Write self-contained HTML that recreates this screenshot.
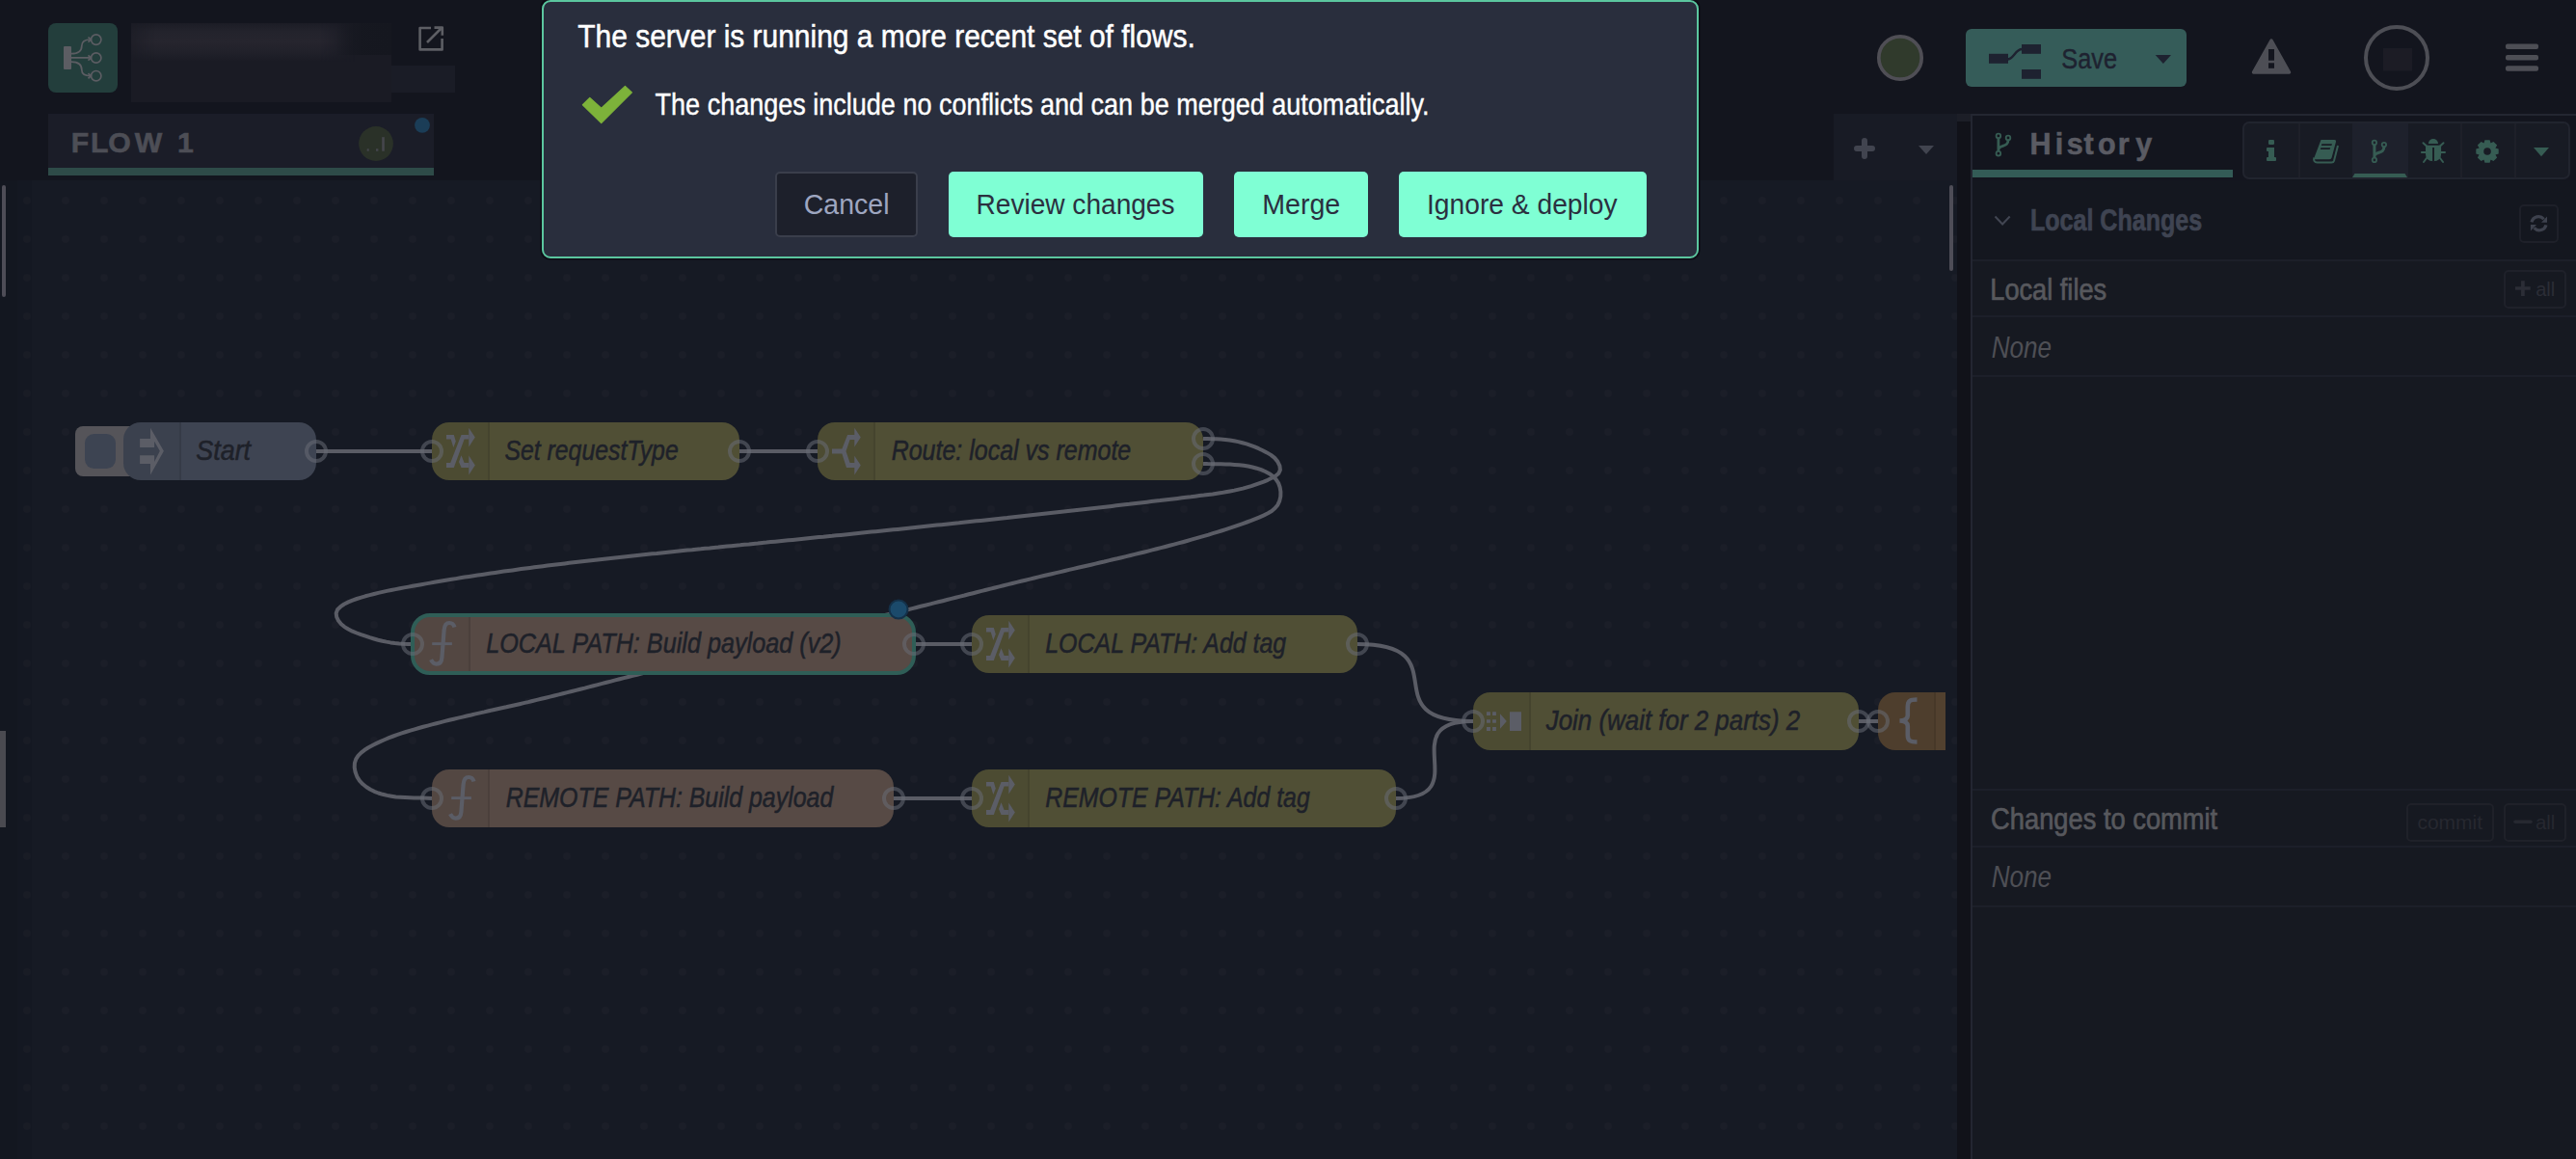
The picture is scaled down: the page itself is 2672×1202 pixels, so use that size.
<!DOCTYPE html>
<html><head><meta charset="utf-8"><title>Node-RED</title>
<style>
html,body{margin:0;padding:0;background:#13151e;overflow:hidden;width:100%;height:100%}
svg{display:block;width:100vw;height:100vh;font-family:"Liberation Sans",sans-serif}
</style></head><body>
<svg viewBox="0 0 2672 1202" preserveAspectRatio="none">
<defs>
<pattern id="gridp" x="8" y="28" width="40" height="40" patternUnits="userSpaceOnUse"><circle cx="20" cy="20" r="3.8" fill="#1b1e28"/></pattern>
<linearGradient id="lgnotch" x1="0" y1="0" x2="1" y2="0"><stop offset="0" stop-color="#15171f" stop-opacity="0"/><stop offset="0.5" stop-color="#15171f" stop-opacity="0.9"/><stop offset="1" stop-color="#15171f" stop-opacity="1"/></linearGradient>
<linearGradient id="lgv" x1="0" y1="0" x2="0" y2="1"><stop offset="0" stop-color="#1a1b24"/><stop offset="0.25" stop-color="#23232c"/><stop offset="0.5" stop-color="#26252e"/><stop offset="0.75" stop-color="#21212a"/><stop offset="1" stop-color="#1a1b24"/></linearGradient>
<linearGradient id="lgh" x1="0" y1="0" x2="1" y2="0"><stop offset="0" stop-color="#fff" stop-opacity="0.3"/><stop offset="0.12" stop-color="#fff" stop-opacity="1"/><stop offset="0.85" stop-color="#fff" stop-opacity="1"/><stop offset="1" stop-color="#fff" stop-opacity="0"/></linearGradient>
<mask id="mh" maskUnits="userSpaceOnUse" x="132" y="22" width="236" height="42"><rect x="132" y="22" width="236" height="42" fill="url(#lgh)"/></mask>
<radialGradient id="rgglow" cx="0.5" cy="0.5" r="0.5"><stop offset="0" stop-color="#26252e" stop-opacity="1"/><stop offset="0.55" stop-color="#25242d" stop-opacity="0.85"/><stop offset="1" stop-color="#1a1b24" stop-opacity="0"/></radialGradient>
</defs>
<rect x="0" y="0" width="2672" height="1202" fill="#13151e"/>
<rect x="0" y="187" width="2030" height="1015" fill="#161a24"/>
<rect x="0" y="187" width="2030" height="1015" fill="url(#gridp)"/>
<rect x="0" y="187" width="18" height="1015" fill="#000" fill-opacity="0.10"/><rect x="18" y="187" width="15" height="1015" fill="#000" fill-opacity="0.05"/>
<rect x="2030" y="126" width="14" height="1076" fill="#111219"/>
<rect x="2030" y="118" width="14" height="8" fill="#1c1e27"/>
<rect x="2044" y="118" width="628" height="1084" fill="#161921"/>
<rect x="2044" y="118" width="2" height="1084" fill="#232631"/>
<rect x="2044" y="118" width="628" height="2" fill="#232631"/>
<rect x="2046" y="120" width="626" height="67" fill="#13151e"/>
<rect x="2046" y="187" width="626" height="82" fill="#14171f"/>
<path d="M 328 468 L 448 468" fill="none" stroke="#5a5c65" stroke-width="4" stroke-linejoin="round"/>
<path d="M 767 468 L 848 468" fill="none" stroke="#5a5c65" stroke-width="4" stroke-linejoin="round"/>
<path d="M 1248.0 455.0 L 1252.4 455.1 L 1257.0 455.2 L 1261.6 455.3 L 1266.3 455.6 L 1271.0 456.0 L 1275.5 456.5 L 1280.0 457.2 L 1284.4 458.1 L 1288.7 459.2 L 1293.0 460.4 L 1297.2 461.8 L 1301.4 463.4 L 1305.6 465.2 L 1309.9 467.2 L 1314.1 469.4 L 1318.3 471.9 L 1322.1 474.9 L 1325.2 478.6 L 1327.4 483.1 L 1327.9 487.4 L 1326.3 490.9 L 1323.2 493.6 L 1319.2 495.8 L 1315.0 497.8 L 1310.8 499.6 L 1306.5 501.2 L 1302.2 502.7 L 1297.9 504.1 L 1293.5 505.4 L 1289.1 506.6 L 1284.7 507.6 L 1280.3 508.6 L 1275.8 509.5 L 1271.3 510.3 L 1266.8 511.1 L 1262.3 511.7 L 1257.8 512.4 L 1253.2 513.0 L 1248.7 513.6 L 1244.1 514.1 L 1239.6 514.7 L 1235.1 515.3 L 1230.5 515.8 L 1226.0 516.3 L 1221.4 516.9 L 1216.9 517.4 L 1212.3 518.0 L 1207.8 518.5 L 1203.3 519.1 L 1198.7 519.6 L 1194.2 520.1 L 1189.6 520.7 L 1185.1 521.2 L 1180.6 521.7 L 1176.0 522.2 L 1171.5 522.8 L 1166.9 523.3 L 1162.4 523.8 L 1157.9 524.3 L 1153.3 524.9 L 1148.8 525.4 L 1144.2 525.9 L 1139.7 526.4 L 1135.2 526.9 L 1130.6 527.4 L 1126.1 528.0 L 1121.6 528.5 L 1117.0 529.0 L 1112.5 529.5 L 1107.9 530.0 L 1103.4 530.5 L 1098.9 531.0 L 1094.3 531.5 L 1089.8 532.0 L 1085.3 532.5 L 1080.7 533.0 L 1076.2 533.5 L 1071.7 534.0 L 1067.1 534.5 L 1062.6 535.0 L 1058.1 535.5 L 1053.5 536.0 L 1049.0 536.5 L 1044.5 537.0 L 1039.9 537.4 L 1035.4 537.9 L 1030.8 538.4 L 1026.3 538.9 L 1021.8 539.4 L 1017.2 539.9 L 1012.7 540.3 L 1008.2 540.8 L 1003.6 541.3 L 999.1 541.8 L 994.6 542.3 L 990.0 542.7 L 985.5 543.2 L 981.0 543.7 L 976.4 544.2 L 971.9 544.6 L 967.4 545.1 L 962.8 545.6 L 958.3 546.1 L 953.8 546.5 L 949.2 547.0 L 944.7 547.5 L 940.2 547.9 L 935.6 548.4 L 931.1 548.9 L 926.6 549.3 L 922.0 549.8 L 917.5 550.3 L 913.0 550.7 L 908.4 551.2 L 903.9 551.6 L 899.3 552.1 L 894.8 552.6 L 890.3 553.0 L 885.7 553.5 L 881.2 553.9 L 876.7 554.4 L 872.1 554.9 L 867.6 555.3 L 863.1 555.8 L 858.5 556.2 L 854.0 556.7 L 849.4 557.1 L 844.9 557.6 L 840.4 558.0 L 835.8 558.5 L 831.3 558.9 L 826.7 559.4 L 822.2 559.9 L 817.7 560.3 L 813.1 560.8 L 808.6 561.2 L 804.0 561.7 L 799.5 562.1 L 795.0 562.6 L 790.4 563.0 L 785.9 563.5 L 781.3 563.9 L 776.8 564.4 L 772.2 564.8 L 767.7 565.3 L 763.1 565.7 L 758.6 566.2 L 754.1 566.6 L 749.5 567.0 L 745.0 567.5 L 740.4 567.9 L 735.9 568.4 L 731.3 568.8 L 726.8 569.3 L 722.2 569.7 L 717.7 570.2 L 713.1 570.6 L 708.6 571.1 L 704.0 571.6 L 699.5 572.0 L 694.9 572.5 L 690.4 572.9 L 685.8 573.4 L 681.3 573.9 L 676.7 574.3 L 672.2 574.8 L 667.6 575.3 L 663.1 575.7 L 658.6 576.2 L 654.0 576.7 L 649.5 577.2 L 644.9 577.7 L 640.4 578.2 L 635.8 578.7 L 631.3 579.2 L 626.7 579.7 L 622.2 580.2 L 617.7 580.7 L 613.1 581.2 L 608.6 581.7 L 604.0 582.2 L 599.5 582.8 L 595.0 583.3 L 590.4 583.8 L 585.9 584.4 L 581.4 584.9 L 576.8 585.5 L 572.3 586.0 L 567.8 586.6 L 563.2 587.2 L 558.7 587.8 L 554.2 588.3 L 549.7 588.9 L 545.1 589.5 L 540.6 590.1 L 536.1 590.7 L 531.6 591.4 L 527.1 592.0 L 522.5 592.6 L 518.0 593.2 L 513.5 593.9 L 509.0 594.5 L 504.5 595.2 L 500.0 595.9 L 495.5 596.6 L 491.0 597.2 L 486.5 597.9 L 482.0 598.6 L 477.5 599.3 L 473.0 600.1 L 468.5 600.8 L 464.0 601.5 L 459.5 602.3 L 455.0 603.0 L 450.5 603.8 L 446.0 604.6 L 441.6 605.4 L 437.1 606.2 L 432.6 607.0 L 428.1 607.8 L 423.7 608.6 L 419.2 609.4 L 414.7 610.3 L 410.3 611.1 L 405.8 612.0 L 401.3 612.9 L 396.9 613.9 L 392.4 614.9 L 388.0 616.0 L 383.5 617.1 L 379.0 618.3 L 374.6 619.6 L 370.1 621.0 L 365.6 622.6 L 361.3 624.4 L 357.1 626.5 L 353.2 629.2 L 350.0 632.3 L 348.7 636.0 L 349.2 639.9 L 351.1 643.8 L 353.9 647.2 L 357.3 650.1 L 361.3 652.5 L 365.5 654.7 L 370.0 656.5 L 374.5 658.2 L 379.1 659.7 L 383.5 661.2 L 387.9 662.5 L 392.2 663.7 L 396.5 664.7 L 400.8 665.6 L 405.1 666.4 L 409.5 667.1 L 414.0 667.5 L 418.6 667.8 L 423.3 668.0 L 428.1 667.9" fill="none" stroke="#5a5c65" stroke-width="4" stroke-linejoin="round"/>
<path d="M 1248.0 480.9 L 1252.6 481.1 L 1257.3 481.2 L 1261.9 481.3 L 1266.6 481.3 L 1271.3 481.4 L 1276.0 481.6 L 1280.6 481.9 L 1285.3 482.2 L 1290.0 482.8 L 1294.6 483.5 L 1299.1 484.5 L 1303.6 485.7 L 1308.1 487.2 L 1312.4 489.0 L 1316.6 491.2 L 1320.3 493.9 L 1323.5 497.1 L 1326.0 500.8 L 1327.6 505.2 L 1328.4 510.0 L 1328.3 514.9 L 1327.2 519.6 L 1325.3 523.7 L 1322.5 527.1 L 1319.1 530.0 L 1315.2 532.3 L 1311.0 534.4 L 1306.6 536.3 L 1302.2 538.1 L 1297.8 539.9 L 1293.4 541.5 L 1289.0 543.1 L 1284.6 544.7 L 1280.2 546.2 L 1275.7 547.7 L 1271.3 549.1 L 1266.9 550.5 L 1262.4 551.9 L 1258.0 553.2 L 1253.6 554.6 L 1249.1 555.9 L 1244.6 557.2 L 1240.2 558.4 L 1235.7 559.7 L 1231.2 561.0 L 1226.7 562.2 L 1222.2 563.4 L 1217.7 564.6 L 1213.2 565.8 L 1208.7 567.0 L 1204.2 568.1 L 1199.7 569.3 L 1195.2 570.4 L 1190.7 571.6 L 1186.2 572.7 L 1181.6 573.8 L 1177.1 574.9 L 1172.6 576.0 L 1168.0 577.1 L 1163.5 578.2 L 1159.0 579.3 L 1154.4 580.3 L 1149.9 581.4 L 1145.4 582.5 L 1140.8 583.5 L 1136.3 584.6 L 1131.7 585.7 L 1127.2 586.7 L 1122.6 587.8 L 1118.1 588.8 L 1113.5 589.9 L 1109.0 590.9 L 1104.5 592.0 L 1099.9 593.1 L 1095.4 594.1 L 1090.8 595.2 L 1086.3 596.3 L 1081.8 597.3 L 1077.2 598.4 L 1072.7 599.5 L 1068.2 600.6 L 1063.6 601.7 L 1059.1 602.8 L 1054.6 603.9 L 1050.1 605.0 L 1045.5 606.1 L 1041.0 607.3 L 1036.5 608.4 L 1032.0 609.5 L 1027.5 610.6 L 1022.9 611.8 L 1018.4 612.9 L 1013.9 614.0 L 1009.4 615.2 L 1004.9 616.3 L 1000.4 617.5 L 995.8 618.6 L 991.3 619.7 L 986.8 620.9 L 982.3 622.0 L 977.8 623.2 L 973.3 624.3 L 968.8 625.4 L 964.2 626.6 L 959.7 627.7 L 955.2 628.8 L 950.7 630.0 L 946.2 631.1 L 941.7 632.2 L 937.1 633.3 L 932.6 634.4 L 928.1 635.5 L 923.6 636.7 L 919.0 637.8 L 914.5 638.9 L 910.0 640.0 L 905.5 641.0 L 900.9 642.1 L 896.4 643.2 L 891.9 644.3 L 887.4 645.4 L 882.8 646.5 L 878.3 647.6 L 873.8 648.6 L 869.2 649.7 L 864.7 650.8 L 860.2 651.9 L 855.6 652.9 L 851.1 654.0 L 846.6 655.1 L 842.0 656.2 L 837.5 657.2 L 833.0 658.3 L 828.4 659.4 L 823.9 660.4 L 819.4 661.5 L 814.8 662.6 L 810.3 663.6 L 805.7 664.7 L 801.2 665.8 L 796.7 666.8 L 792.1 667.9 L 787.6 669.0 L 783.1 670.0 L 778.5 671.1 L 774.0 672.2 L 769.5 673.3 L 764.9 674.3 L 760.4 675.4 L 755.9 676.5 L 751.3 677.6 L 746.8 678.6 L 742.3 679.7 L 737.7 680.8 L 733.2 681.9 L 728.7 683.0 L 724.1 684.1 L 719.6 685.2 L 715.1 686.3 L 710.5 687.4 L 706.0 688.5 L 701.5 689.6 L 696.9 690.7 L 692.4 691.8 L 687.9 692.9 L 683.4 694.0 L 678.8 695.2 L 674.3 696.3 L 669.8 697.4 L 665.3 698.5 L 660.8 699.7 L 656.2 700.8 L 651.7 702.0 L 647.2 703.1 L 642.7 704.3 L 638.2 705.4 L 633.7 706.6 L 629.1 707.8 L 624.6 708.9 L 620.1 710.1 L 615.6 711.2 L 611.1 712.4 L 606.6 713.6 L 602.0 714.7 L 597.5 715.9 L 593.0 717.0 L 588.5 718.1 L 584.0 719.3 L 579.5 720.4 L 574.9 721.5 L 570.4 722.6 L 565.9 723.7 L 561.4 724.8 L 556.8 725.9 L 552.3 727.0 L 547.8 728.1 L 543.2 729.1 L 538.7 730.2 L 534.2 731.2 L 529.6 732.2 L 525.1 733.3 L 520.5 734.3 L 516.0 735.3 L 511.5 736.3 L 506.9 737.3 L 502.4 738.4 L 497.8 739.4 L 493.3 740.4 L 488.8 741.5 L 484.2 742.5 L 479.7 743.6 L 475.2 744.6 L 470.6 745.7 L 466.1 746.8 L 461.6 747.9 L 457.1 749.1 L 452.6 750.2 L 448.1 751.4 L 443.6 752.6 L 439.1 753.8 L 434.6 755.0 L 430.1 756.3 L 425.6 757.6 L 421.1 759.0 L 416.7 760.4 L 412.3 761.9 L 407.9 763.5 L 403.5 765.2 L 399.2 767.0 L 394.9 768.9 L 390.6 770.9 L 386.4 773.0 L 382.2 775.3 L 378.2 777.8 L 374.6 780.6 L 371.6 783.7 L 369.3 787.2 L 367.9 791.3 L 367.7 795.9 L 368.6 800.8 L 370.4 805.6 L 373.1 809.8 L 376.4 813.3 L 380.1 816.2 L 384.1 818.7 L 388.2 820.8 L 392.5 822.5 L 396.9 823.8 L 401.4 824.9 L 406.0 825.7 L 410.6 826.4 L 415.3 826.8 L 420.0 827.1 L 424.8 827.3 L 429.5 827.4 L 434.2 827.5 L 438.9 827.6 L 443.5 827.8 L 448.0 828.0" fill="none" stroke="#5a5c65" stroke-width="4" stroke-linejoin="round"/>
<path d="M 948 668 L 1008 668" fill="none" stroke="#5a5c65" stroke-width="4" stroke-linejoin="round"/>
<path d="M 927 828 L 1008 828" fill="none" stroke="#5a5c65" stroke-width="4" stroke-linejoin="round"/>
<path d="M 1408 668 C 1516.2 668 1419.8 748 1528 748" fill="none" stroke="#5a5c65" stroke-width="4" stroke-linejoin="round"/>
<path d="M 1448 828 C 1532.9 828 1443.1 748 1528 748" fill="none" stroke="#5a5c65" stroke-width="4" stroke-linejoin="round"/>
<path d="M 1928 748 L 1948 748" fill="none" stroke="#5a5c65" stroke-width="4" stroke-linejoin="round"/>
<rect x="78" y="442" width="70" height="52" rx="8" fill="#555459"/>
<rect x="88" y="450" width="32" height="36" rx="9.5" fill="#3d4452"/>
<rect x="128" y="438" width="200" height="60" rx="18" fill="#3e4452"/>
<path d="M 146 438 H 186 V 498 H 146 A 18 18 0 0 1 128 480 V 456 A 18 18 0 0 1 146 438 Z" fill="#000" fill-opacity="0.04"/>
<rect x="186" y="438" width="2" height="60" fill="#000" fill-opacity="0.13"/>
<g transform="translate(128,438)" fill="#5b5d66"><path d="M28 5.7 L41.9 29.8 L28 54.6 L28 43 L17.1 43 L17.1 34.2 L32.1 34.2 L32.1 40.9 L37.8 29.8 L32.1 19.7 L32.1 25.9 L17.1 25.9 L17.1 17.1 L28 17.1 Z"/></g>
<text x="203.34" y="477" font-size="29.8" font-weight="normal" font-style="italic" fill="#1e2129" textLength="56.73" lengthAdjust="spacingAndGlyphs" stroke="#1e2129" stroke-width="0.55">Start</text>
<circle cx="328" cy="468" r="10" fill="none" stroke="rgba(104,107,116,0.55)" stroke-width="4"/>
<rect x="448" y="438" width="319" height="60" rx="18" fill="#504f35"/>
<path d="M 466 438 H 506 V 498 H 466 A 18 18 0 0 1 448 480 V 456 A 18 18 0 0 1 466 438 Z" fill="#000" fill-opacity="0.04"/>
<rect x="506" y="438" width="2" height="60" fill="#000" fill-opacity="0.13"/>
<g transform="translate(448,438)" fill="#5b5d66"><path d="M15 12.9 L22.8 12.9 L24.8 19.7 L22.3 25.9 L19.7 17.6 L15 17.6 Z"/><path d="M15 41.9 L19.2 41.9 L30.5 12.9 L38.3 12.9 L38.3 17.6 L33.6 17.6 L22.8 46.9 L15 46.9 Z"/><path d="M38.3 5.7 L44.8 15.5 L38.3 25.4 Z"/><path d="M30.5 34.2 L33.6 41.9 L38.3 41.9 L38.3 46.9 L30.5 46.9 L28 40.9 Z"/><path d="M38.3 34.4 L44.8 44.5 L38.3 54.6 Z"/></g>
<text x="523.40" y="477" font-size="29.8" font-weight="normal" font-style="italic" fill="#1e2129" textLength="180.31" lengthAdjust="spacingAndGlyphs" stroke="#1e2129" stroke-width="0.55">Set requestType</text>
<circle cx="448" cy="468" r="10" fill="none" stroke="rgba(104,107,116,0.55)" stroke-width="4"/>
<circle cx="767" cy="468" r="10" fill="none" stroke="rgba(104,107,116,0.55)" stroke-width="4"/>
<rect x="848" y="438" width="400" height="60" rx="18" fill="#504f35"/>
<path d="M 866 438 H 906 V 498 H 866 A 18 18 0 0 1 848 480 V 456 A 18 18 0 0 1 866 438 Z" fill="#000" fill-opacity="0.04"/>
<rect x="906" y="438" width="2" height="60" fill="#000" fill-opacity="0.13"/>
<g transform="translate(848,438)" fill="#5b5d66"><path d="M15 27.4 L25.4 27.4 L31.1 12.9 L38.3 12.9 L38.3 5.7 L44.8 15.5 L38.3 25.4 L38.3 17.9 L33.6 17.9 L29.5 30 L33.6 41.9 L38.3 41.9 L38.3 34.7 L44.8 44.5 L38.3 54.6 L38.3 46.9 L30 46.9 L25.4 32.6 L15 32.6 Z"/></g>
<text x="924.63" y="477" font-size="29.8" font-weight="normal" font-style="italic" fill="#1e2129" textLength="248.60" lengthAdjust="spacingAndGlyphs" stroke="#1e2129" stroke-width="0.55">Route: local vs remote</text>
<circle cx="848" cy="468" r="10" fill="none" stroke="rgba(104,107,116,0.55)" stroke-width="4"/>
<circle cx="1248" cy="455" r="10" fill="none" stroke="rgba(104,107,116,0.55)" stroke-width="4"/>
<circle cx="1248" cy="481" r="10" fill="none" stroke="rgba(104,107,116,0.55)" stroke-width="4"/>
<rect x="428" y="638" width="520" height="60" rx="18" fill="#574a45"/>
<path d="M 446 638 H 486 V 698 H 446 A 18 18 0 0 1 428 680 V 656 A 18 18 0 0 1 446 638 Z" fill="#000" fill-opacity="0.04"/>
<rect x="486" y="638" width="2" height="60" fill="#000" fill-opacity="0.13"/>
<rect x="428" y="638" width="520" height="60" rx="18" fill="none" stroke="#2f5e57" stroke-width="4"/>
<g transform="translate(428,638)" fill="#5b5d66"><path d="M43.5 12.5 C 42.5 8.8 40.5 8 38.2 8 C 34.5 8 33 10.5 32.6 15.5 L 30.4 44 C 30 49.5 27.5 50.6 24.8 50.6 C 22.3 50.6 20.5 49.5 19 46.2" fill="none" stroke="#5b5d66" stroke-width="4.2"/><rect x="20.2" y="28.2" width="20.7" height="2.9"/></g>
<text x="504.13" y="677" font-size="29.8" font-weight="normal" font-style="italic" fill="#1e2129" textLength="368.55" lengthAdjust="spacingAndGlyphs" stroke="#1e2129" stroke-width="0.55">LOCAL PATH: Build payload (v2)</text>
<circle cx="428" cy="668" r="10" fill="none" stroke="rgba(104,107,116,0.55)" stroke-width="4"/>
<circle cx="948" cy="668" r="10" fill="none" stroke="rgba(104,107,116,0.55)" stroke-width="4"/>
<rect x="1008" y="638" width="400" height="60" rx="18" fill="#504f35"/>
<path d="M 1026 638 H 1066 V 698 H 1026 A 18 18 0 0 1 1008 680 V 656 A 18 18 0 0 1 1026 638 Z" fill="#000" fill-opacity="0.04"/>
<rect x="1066" y="638" width="2" height="60" fill="#000" fill-opacity="0.13"/>
<g transform="translate(1008,638)" fill="#5b5d66"><path d="M15 12.9 L22.8 12.9 L24.8 19.7 L22.3 25.9 L19.7 17.6 L15 17.6 Z"/><path d="M15 41.9 L19.2 41.9 L30.5 12.9 L38.3 12.9 L38.3 17.6 L33.6 17.6 L22.8 46.9 L15 46.9 Z"/><path d="M38.3 5.7 L44.8 15.5 L38.3 25.4 Z"/><path d="M30.5 34.2 L33.6 41.9 L38.3 41.9 L38.3 46.9 L30.5 46.9 L28 40.9 Z"/><path d="M38.3 34.4 L44.8 44.5 L38.3 54.6 Z"/></g>
<text x="1084.25" y="677" font-size="29.8" font-weight="normal" font-style="italic" fill="#1e2129" textLength="249.97" lengthAdjust="spacingAndGlyphs" stroke="#1e2129" stroke-width="0.55">LOCAL PATH: Add tag</text>
<circle cx="1008" cy="668" r="10" fill="none" stroke="rgba(104,107,116,0.55)" stroke-width="4"/>
<circle cx="1408" cy="668" r="10" fill="none" stroke="rgba(104,107,116,0.55)" stroke-width="4"/>
<rect x="448" y="798" width="479" height="60" rx="18" fill="#574a45"/>
<path d="M 466 798 H 506 V 858 H 466 A 18 18 0 0 1 448 840 V 816 A 18 18 0 0 1 466 798 Z" fill="#000" fill-opacity="0.04"/>
<rect x="506" y="798" width="2" height="60" fill="#000" fill-opacity="0.13"/>
<g transform="translate(448,798)" fill="#5b5d66"><path d="M43.5 12.5 C 42.5 8.8 40.5 8 38.2 8 C 34.5 8 33 10.5 32.6 15.5 L 30.4 44 C 30 49.5 27.5 50.6 24.8 50.6 C 22.3 50.6 20.5 49.5 19 46.2" fill="none" stroke="#5b5d66" stroke-width="4.2"/><rect x="20.2" y="28.2" width="20.7" height="2.9"/></g>
<text x="524.74" y="837" font-size="29.8" font-weight="normal" font-style="italic" fill="#1e2129" textLength="339.51" lengthAdjust="spacingAndGlyphs" stroke="#1e2129" stroke-width="0.55">REMOTE PATH: Build payload</text>
<circle cx="448" cy="828" r="10" fill="none" stroke="rgba(104,107,116,0.55)" stroke-width="4"/>
<circle cx="927" cy="828" r="10" fill="none" stroke="rgba(104,107,116,0.55)" stroke-width="4"/>
<rect x="1008" y="798" width="440" height="60" rx="18" fill="#504f35"/>
<path d="M 1026 798 H 1066 V 858 H 1026 A 18 18 0 0 1 1008 840 V 816 A 18 18 0 0 1 1026 798 Z" fill="#000" fill-opacity="0.04"/>
<rect x="1066" y="798" width="2" height="60" fill="#000" fill-opacity="0.13"/>
<g transform="translate(1008,798)" fill="#5b5d66"><path d="M15 12.9 L22.8 12.9 L24.8 19.7 L22.3 25.9 L19.7 17.6 L15 17.6 Z"/><path d="M15 41.9 L19.2 41.9 L30.5 12.9 L38.3 12.9 L38.3 17.6 L33.6 17.6 L22.8 46.9 L15 46.9 Z"/><path d="M38.3 5.7 L44.8 15.5 L38.3 25.4 Z"/><path d="M30.5 34.2 L33.6 41.9 L38.3 41.9 L38.3 46.9 L30.5 46.9 L28 40.9 Z"/><path d="M38.3 34.4 L44.8 44.5 L38.3 54.6 Z"/></g>
<text x="1084.25" y="837" font-size="29.8" font-weight="normal" font-style="italic" fill="#1e2129" textLength="274.47" lengthAdjust="spacingAndGlyphs" stroke="#1e2129" stroke-width="0.55">REMOTE PATH: Add tag</text>
<circle cx="1008" cy="828" r="10" fill="none" stroke="rgba(104,107,116,0.55)" stroke-width="4"/>
<circle cx="1448" cy="828" r="10" fill="none" stroke="rgba(104,107,116,0.55)" stroke-width="4"/>
<rect x="1528" y="718" width="400" height="60" rx="18" fill="#504f35"/>
<path d="M 1546 718 H 1586 V 778 H 1546 A 18 18 0 0 1 1528 760 V 736 A 18 18 0 0 1 1546 718 Z" fill="#000" fill-opacity="0.04"/>
<rect x="1586" y="718" width="2" height="60" fill="#000" fill-opacity="0.13"/>
<g transform="translate(1528,718)" fill="#5b5d66"><path d="M14 20.2h3.9v3.7h-3.9zM20.1 20.2h3.8v3.7h-3.8zM14 28.2h3.9v3.6h-3.9zM20.1 28.2h3.8v3.6h-3.8zM14 36.1h3.9v3.8h-3.9zM20.1 36.1h3.8v3.8h-3.8zM28 22.3L34.8 29.9L28 37.8z M38 20.2h12v19.7h-12z"/></g>
<text x="1603.76" y="757" font-size="29.8" font-weight="normal" font-style="italic" fill="#1e2129" textLength="263.42" lengthAdjust="spacingAndGlyphs" stroke="#1e2129" stroke-width="0.55">Join (wait for 2 parts) 2</text>
<circle cx="1528" cy="748" r="10" fill="none" stroke="rgba(104,107,116,0.55)" stroke-width="4"/>
<circle cx="1928" cy="748" r="10" fill="none" stroke="rgba(104,107,116,0.55)" stroke-width="4"/>
<clipPath id="cj"><rect x="1928" y="698" width="90" height="100"/></clipPath>
<g clip-path="url(#cj)">
<rect x="1948" y="718" width="200" height="60" rx="18" fill="#52412f"/>
<path d="M 1966 718 H 2006 V 778 H 1966 A 18 18 0 0 1 1948 760 V 736 A 18 18 0 0 1 1966 718 Z" fill="#000" fill-opacity="0.04"/>
<rect x="2006" y="718" width="2" height="60" fill="#000" fill-opacity="0.13"/>
<g transform="translate(1948,718)" fill="#5b5d66"><path d="M40.5 7.5 C 33 7.5 30.8 9 30.8 15 L 30.8 24 C 30.8 27.5 28 29.3 22.5 29.5 C 28 29.7 30.8 31.5 30.8 35 L 30.8 44 C 30.8 50 33 51.5 40.5 51.5" fill="none" stroke="#5b5d66" stroke-width="4.6"/></g>
<circle cx="1948" cy="748" r="10" fill="none" stroke="rgba(104,107,116,0.55)" stroke-width="4"/>
</g>
<circle cx="932" cy="632" r="9.5" fill="#1b4a6b" stroke="#143048" stroke-width="2"/>
<rect x="2022" y="192" width="4" height="89" rx="2" fill="#4e4d57"/>
<rect x="2" y="192" width="4" height="116" rx="2" fill="#4e4d57"/>
<rect x="0" y="758" width="6" height="100" fill="#4a4a50"/>
<rect x="50" y="24" width="72" height="72" rx="8" fill="#233e3c"/>
<g fill="none" stroke="#5c5d63" stroke-width="1.7"><circle cx="99.7" cy="41.1" r="5.2"/><circle cx="99.7" cy="60" r="5.2"/><circle cx="99.7" cy="78.7" r="5.2"/><path d="M73.9 55.7 C 82 55.7 84.8 52 84.8 47.5 C 84.8 43 88 41 94 41 M73.9 59.9 H94 M73.9 64.1 C 82 64.1 84.8 68 84.8 72.5 C 84.8 77 88 78.7 94 78.7"/><path d="M91.5 38.5 L94.3 41.1 L91.5 43.7 M91.5 57.4 L94.3 60 L91.5 62.6 M91.5 76.1 L94.3 78.7 L91.5 81.3"/></g><rect x="66" y="47.9" width="8" height="24" rx="1" fill="#5c5d63"/>
<rect x="136" y="24" width="270" height="82" fill="#1a1b24"/><rect x="406" y="68" width="66" height="28" fill="#1a1c26"/>
<clipPath id="cpA"><rect x="136" y="24" width="270" height="82"/></clipPath>
<g clip-path="url(#cpA)"><rect x="132" y="22" width="236" height="42" fill="url(#lgv)" mask="url(#mh)"/><rect x="348" y="24" width="58" height="33" fill="url(#lgnotch)"/></g>
<g fill="none" stroke="#5d5e64" stroke-width="2.6" stroke-linejoin="round"><path d="M447 29 H435.6 V51.4 H458.6 V40 M443 44 L458 29 M450.5 28.6 H458.8 V36.8"/></g>
<circle cx="1971" cy="60" r="22.2" fill="#303a2c" stroke="#4f4e55" stroke-width="3.7"/>
<rect x="2039" y="30" width="229" height="60" rx="6" fill="#355c59"/>
<g fill="#1e2230"><rect x="2063" y="55.8" width="20" height="10"/><rect x="2097" y="46" width="20" height="9.8"/><rect x="2097" y="72" width="20" height="9.8"/></g>
<path d="M2082 61.5 C 2089 61.5 2090 51 2097.5 51" fill="none" stroke="#1e2230" stroke-width="2.4"/>
<text x="2138.35" y="71" font-size="29" font-weight="normal" font-style="normal" fill="#1e2230" textLength="57.78" lengthAdjust="spacingAndGlyphs" stroke="#1e2230" stroke-width="0.4">Save</text>
<path d="M2235.7 57 h16.3 l-8.15 9 z" fill="#1e2230"/>
<path d="M2356 42 L2374.5 75 H2337.5 Z" fill="#4d4e55" stroke="#4d4e55" stroke-width="3.5" stroke-linejoin="round"/>
<rect x="2353" y="51" width="6" height="11.7" fill="#13151e"/><rect x="2353" y="65.3" width="6" height="5.5" fill="#13151e"/>
<circle cx="2486" cy="60" r="32" fill="none" stroke="#4d4e55" stroke-width="4"/>
<rect x="2472" y="50" width="30" height="23.5" fill="#1c1c25"/>
<rect x="2599" y="45.4" width="34" height="5.5" rx="2" fill="#4d4e55"/>
<rect x="2599" y="57" width="34" height="5.5" rx="2" fill="#4d4e55"/>
<rect x="2599" y="68.2" width="34" height="5.5" rx="2" fill="#4d4e55"/>
<rect x="50" y="118" width="400" height="64" fill="#1b1d28"/>
<rect x="50" y="174" width="400" height="8" fill="#2e4b48"/>
<text x="73.78 93.98 112.16 139.77 184.10" y="158" font-size="30.2" font-weight="bold" fill="#4d4e56" stroke="#4d4e56" stroke-width="0.6">FLOW1</text>
<circle cx="390" cy="149" r="17.9" fill="#2a3128"/>
<g fill="#45464d"><rect x="380.7" y="154.3" width="2" height="2.4"/><rect x="390" y="154.3" width="2.4" height="2.4"/><rect x="396.2" y="142.2" width="2.6" height="14.5"/></g>
<circle cx="438" cy="129.8" r="7.9" fill="#1b3d57"/>
<rect x="1902" y="118" width="128" height="69" fill="#181b25"/>
<path d="M1934 146 v16 M1926 154 h16" stroke="#41444f" stroke-width="6" stroke-linecap="round"/>
<path d="M1990 151 h16 l-8 9 z" fill="#41444f"/>
<rect x="2046" y="176" width="270" height="8" fill="#335b56"/>
<g fill="none" stroke="#365c53" stroke-width="1.8"><circle cx="2072.9" cy="140.9" r="2.3"/><circle cx="2083" cy="142.9" r="2.3"/><circle cx="2072.9" cy="159.2" r="2.3"/></g>
<path d="M2072.9 143.2 V156.9 M2083 145.2 C 2083 150 2080 150.5 2076.5 151.8 C 2074.5 152.5 2073.2 153.5 2072.9 155" fill="none" stroke="#365c53" stroke-width="2.8"/>
<text x="2105.56 2131.77 2143.63 2161.43 2176.11 2196.69 2215.16" y="160.1" font-size="30.5" font-weight="bold" fill="#5a5b63" stroke="#5a5b63" stroke-width="0.6">History</text>
<rect x="2327" y="127" width="338" height="58" rx="6" fill="#181b24" stroke="#21242e" stroke-width="2"/>
<rect x="2440" y="128" width="58" height="56" fill="#1e212c"/>
<path d="M2440 184 L2442.5 180 H2494.5 L2497 184 Z" fill="#365c53"/>
<rect x="2384" y="128" width="2" height="56" fill="#1e2029"/>
<rect x="2552" y="128" width="2" height="56" fill="#1e2029"/>
<rect x="2608" y="128" width="2" height="56" fill="#1e2029"/>
<g fill="#365c53"><rect x="2353" y="145" width="6" height="5" rx="1.2"/><rect x="2351" y="153" width="8" height="4" rx="1"/><rect x="2353" y="153" width="6" height="12"/><rect x="2351" y="163" width="10" height="4" rx="1"/></g>
<path d="M2407.5 145 H2421.5 Q2423.5 145 2423 147 L2418.6 163.5 Q2418.2 165.3 2416.3 165.3 H2399.8 Z" fill="#365c53"/>
<path d="M2400.2 163.5 Q2399.5 168.6 2403.5 168.6 H2418.5 Q2420.5 168.6 2421 166.8 L2425 151" fill="none" stroke="#365c53" stroke-width="2"/>
<path d="M2408.4 149.2 H2419 L2418.4 151.1 H2407.8 Z M2407.4 153.2 H2417.2 L2416.6 155.1 H2406.8 Z" fill="#181b24"/>
<g fill="none" stroke="#365c53" stroke-width="1.8"><circle cx="2462.9" cy="147.9" r="2.2"/><circle cx="2472.9" cy="150" r="2.2"/><circle cx="2462.9" cy="165.9" r="2.2"/></g>
<path d="M2462.9 150.2 V163.6 M2472.9 152.2 C 2472.9 157 2470 157.5 2466 158.8 C 2464 159.5 2463 160.5 2462.9 162" fill="none" stroke="#365c53" stroke-width="3"/>
<g fill="#365c53"><path d="M2518.9 149 A 5.05 5 0 0 1 2529 149 Z"/><path d="M2516 150.7 H2532.1 V160 Q2532.1 167.2 2524 167.2 Q2516 167.2 2516 160 Z"/></g>
<rect x="2523.1" y="153" width="1.9" height="14.5" fill="#181b24"/>
<g stroke="#365c53" stroke-width="2" stroke-linecap="round"><path d="M2511.9 157.9 H2516 M2532.1 157.9 H2536 M2513.5 148.2 L2517 151.5 M2534.5 148.2 L2531 151.5 M2514 168 L2517 164 M2534 168 L2531 164"/></g>
<path d="M 2576.40 148.75 L 2577.40 145.29 L 2582.60 145.29 L 2583.60 148.75 L 2583.29 148.62 L 2586.45 146.88 L 2590.12 150.55 L 2588.38 153.71 L 2588.25 153.40 L 2591.71 154.40 L 2591.71 159.60 L 2588.25 160.60 L 2588.38 160.29 L 2590.12 163.45 L 2586.45 167.12 L 2583.29 165.38 L 2583.60 165.25 L 2582.60 168.71 L 2577.40 168.71 L 2576.40 165.25 L 2576.71 165.38 L 2573.55 167.12 L 2569.88 163.45 L 2571.62 160.29 L 2571.75 160.60 L 2568.29 159.60 L 2568.29 154.40 L 2571.75 153.40 L 2571.62 153.71 L 2569.88 150.55 L 2573.55 146.88 L 2576.71 148.62 Z" fill="#365c53"/><circle cx="2580" cy="157" r="3.8" fill="#181b24"/>
<path d="M2628 153 h16 l-8 9.2 z" fill="#365c53"/>
<path d="M2069.5 224.5 l7.6 8 l7.6 -8" fill="none" stroke="#424652" stroke-width="2"/>
<text x="2106.02" y="239" font-size="30.5" font-weight="bold" font-style="normal" fill="#3f4452" textLength="178.10" lengthAdjust="spacingAndGlyphs" stroke="#3f4452" stroke-width="0.7">Local Changes</text>
<rect x="2614" y="213" width="39" height="38" rx="4" fill="none" stroke="#1e2029" stroke-width="2"/>
<g fill="none" stroke="#3d414d" stroke-width="3.2"><path d="M2626 230.3 A 7.3 7.3 0 0 1 2638.6 227.2 M2641 233.3 A 7.3 7.3 0 0 1 2628.6 236.4"/></g>
<path d="M2636 230.8 L2642 230.8 L2642 224.4 Z M2624.9 233 L2631 233 L2624.9 239.4 Z" fill="#3d414d"/>
<rect x="2046" y="269" width="626" height="2" fill="#1c1f29"/>
<text x="2064.27" y="311" font-size="30.5" font-weight="normal" font-style="normal" fill="#57585d" textLength="120.91" lengthAdjust="spacingAndGlyphs" stroke="#57585d" stroke-width="0.7">Local files</text>
<rect x="2598" y="281" width="63" height="38" rx="4" fill="none" stroke="#1f212a" stroke-width="2"/>
<path d="M2616.9 291.2 v15.7 M2609 299 h15.7" stroke="#2b2d36" stroke-width="3.7"/>
<text x="2630.15" y="306.9" font-size="20.1" font-weight="normal" font-style="normal" fill="#2b2d36" textLength="20.10" lengthAdjust="spacingAndGlyphs" >all</text>
<rect x="2046" y="327" width="626" height="2" fill="#1c1f29"/>
<text x="2065.70" y="370.6" font-size="30.5" font-weight="normal" font-style="italic" fill="#4e4f55" textLength="62.37" lengthAdjust="spacingAndGlyphs" >None</text>
<rect x="2046" y="389" width="626" height="2" fill="#1c1f29"/>
<rect x="2046" y="818" width="626" height="2" fill="#1c1f29"/>
<text x="2065.11" y="860" font-size="30.5" font-weight="normal" font-style="normal" fill="#57585d" textLength="235.09" lengthAdjust="spacingAndGlyphs" stroke="#57585d" stroke-width="0.7">Changes to commit</text>
<rect x="2497" y="834" width="89" height="38" rx="4" fill="none" stroke="#1f2129" stroke-width="2"/>
<text x="2507.41" y="860" font-size="20.8" font-weight="normal" font-style="normal" fill="#262830" textLength="67.65" lengthAdjust="spacingAndGlyphs" >commit</text>
<rect x="2598" y="834" width="63" height="38" rx="4" fill="none" stroke="#1f2129" stroke-width="2"/>
<path d="M2609 852.2 h16" stroke="#262830" stroke-width="3.6" stroke-linecap="round"/>
<text x="2629.93" y="860" font-size="20.8" font-weight="normal" font-style="normal" fill="#262830" textLength="20.43" lengthAdjust="spacingAndGlyphs" >all</text>
<rect x="2046" y="877" width="626" height="2" fill="#1c1f29"/>
<text x="2065.70" y="920" font-size="30.5" font-weight="normal" font-style="italic" fill="#4e4f55" textLength="62.37" lengthAdjust="spacingAndGlyphs" >None</text>
<rect x="2046" y="939" width="626" height="2" fill="#1c1f29"/>
<rect x="560.5" y="-2" width="1203" height="271.5" rx="9.5" fill="#0c0b14" opacity="0.85"/>
<rect x="563" y="1" width="1198" height="266" rx="8" fill="#292e3d" stroke="#5bc69f" stroke-width="2"/>
<text x="599.33" y="49" font-size="32.7" font-weight="normal" font-style="normal" fill="#ffffff" textLength="640.40" lengthAdjust="spacingAndGlyphs" stroke="#ffffff" stroke-width="0.5">The server is running a more recent set of flows.</text>
<path d="M611.8 101.4 L623.7 112.2 L648.4 89.4 L655.4 95.9 L623.7 127.6 L604.4 108.7 Z" fill="#7db23a" stroke="#7db23a" stroke-width="1.2" stroke-linejoin="round"/>
<text x="679.59" y="119" font-size="30.5" font-weight="normal" font-style="normal" fill="#ffffff" textLength="802.87" lengthAdjust="spacingAndGlyphs" stroke="#ffffff" stroke-width="0.4">The changes include no conflicts and can be merged automatically.</text>
<rect x="805" y="179" width="146" height="66" rx="4" fill="#1d202b" stroke="#3a3e4b" stroke-width="2"/>
<text x="833.75" y="222.4" font-size="29" font-weight="normal" font-style="normal" fill="#9ea6c0" textLength="88.76" lengthAdjust="spacingAndGlyphs" >Cancel</text>
<rect x="984" y="178" width="264" height="68" rx="5" fill="#7fffd4"/>
<text x="1012.50" y="222.4" font-size="29" font-weight="normal" font-style="normal" fill="#2b3040" textLength="206.02" lengthAdjust="spacingAndGlyphs" >Review changes</text>
<rect x="1280" y="178" width="139" height="68" rx="5" fill="#7fffd4"/>
<text x="1309.26" y="222.4" font-size="29" font-weight="normal" font-style="normal" fill="#2b3040" textLength="81.01" lengthAdjust="spacingAndGlyphs" >Merge</text>
<rect x="1451" y="178" width="257" height="68" rx="5" fill="#7fffd4"/>
<text x="1480.00" y="222.4" font-size="29" font-weight="normal" font-style="normal" fill="#2b3040" textLength="197.56" lengthAdjust="spacingAndGlyphs" >Ignore &amp; deploy</text>
</svg>
</body></html>
